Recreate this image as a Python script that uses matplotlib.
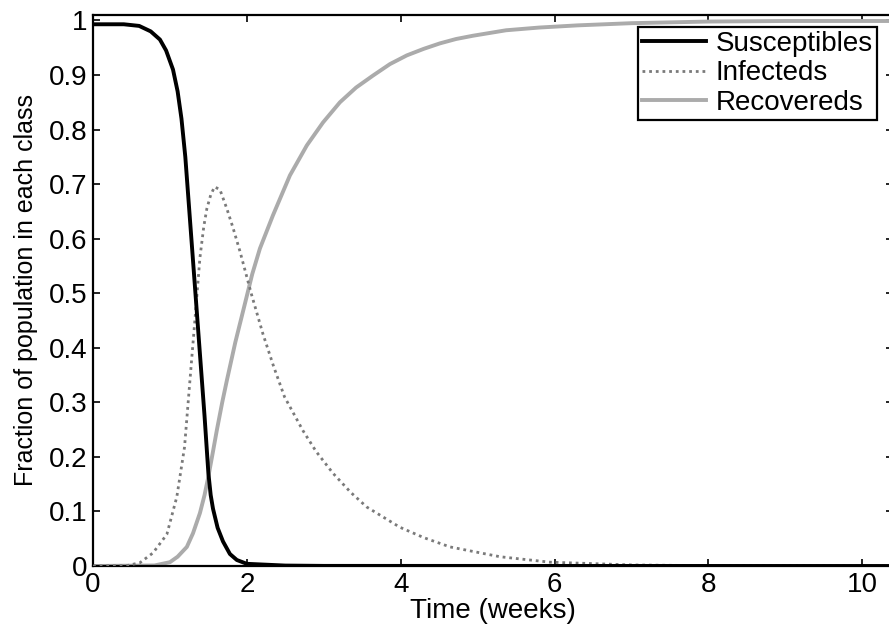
import matplotlib
matplotlib.use('Agg')
import matplotlib.pyplot as plt

plt.rcParams['font.family'] = ['Liberation Sans', 'DejaVu Sans']

# values
t_s = [0, 0.4, 0.6, 0.75, 0.87, 0.95, 1.04, 1.1, 1.15, 1.2, 1.25, 1.3, 1.35, 1.4,
       1.45, 1.5, 1.53, 1.56, 1.62, 1.69, 1.78, 1.87, 2.0, 2.5, 3.0, 10.5]
susceptibles = [0.993, 0.993, 0.99, 0.98, 0.965, 0.945, 0.91, 0.87, 0.82, 0.75, 0.655,
                0.56, 0.465, 0.37, 0.275, 0.17, 0.13, 0.105, 0.07, 0.045, 0.022,
                0.011, 0.004, 0.0008, 0.0002, 0.0]

t_i = [0, 0.45, 0.61, 0.78, 0.96, 1.09, 1.19, 1.26, 1.33, 1.39, 1.44, 1.48,
       1.53, 1.58, 1.65, 1.74, 1.82, 1.91, 2.06, 2.21, 2.35, 2.49, 2.73, 2.9, 3.12,
       3.35, 3.56, 3.99, 4.3, 4.64, 5.29, 5.94, 7.0, 8.0, 10.5]
infecteds = [0.0, 0.001, 0.006, 0.024, 0.058, 0.127, 0.218, 0.34, 0.46,
             0.565, 0.622, 0.655, 0.68, 0.695, 0.69, 0.655, 0.62, 0.577, 0.498, 0.425,
             0.365, 0.31, 0.248, 0.21, 0.17, 0.135, 0.108, 0.071, 0.052, 0.035, 0.017,
             0.007, 0.002, 0.0005, 0.0]

t_r = [0, 0.8, 1.0, 1.1, 1.22, 1.3, 1.39, 1.45, 1.5, 1.56, 1.61, 1.68, 1.74, 1.85,
       1.97, 2.07, 2.17, 2.34, 2.56, 2.78, 2.99, 3.21, 3.42, 3.64, 3.86, 4.08, 4.3,
       4.51, 4.72, 4.94, 5.37, 5.8, 6.3, 7.0, 8.0, 9.0, 10.5]
recovereds = [0.0, 0.001, 0.007, 0.017, 0.035, 0.06, 0.097, 0.13, 0.164, 0.21, 0.249,
              0.30, 0.34, 0.41, 0.478, 0.535, 0.582, 0.643, 0.716, 0.771, 0.813, 0.85,
              0.877, 0.899, 0.92, 0.936, 0.948, 0.958, 0.966, 0.972, 0.982, 0.987,
              0.991, 0.995, 0.998, 0.999, 0.999]

x_ticks = [0, 2, 4, 6, 8, 10]
y_ticks = [0, 0.1, 0.2, 0.3, 0.4, 0.5, 0.6, 0.7, 0.8, 0.9, 1]
y_labels = ['0', '0.1', '0.2', '0.3', '0.4', '0.5', '0.6', '0.7', '0.8', '0.9', '1']

fig = plt.figure(figsize=(8.89, 6.28), dpi=100)
# right edge of the axes sits just past the picture edge, as in the cropped original
ax = fig.add_axes([93 / 889, 62 / 628, 800 / 889, 551 / 628])

ax.plot(t_s, susceptibles, color='black', lw=2.8, label='Susceptibles', zorder=4)
ax.plot(t_i, infecteds, color='#7a7a7a', lw=2.0, linestyle=(0, (1, 1.4)),
        label='Infecteds', zorder=3)
ax.plot(t_r, recovereds, color='#ababab', lw=2.8, label='Recovereds', zorder=2)

ax.set_xlim(0, 10.4)
ax.set_ylim(0, 1.01)
ax.set_xticks(x_ticks)
ax.set_yticks(y_ticks)
ax.set_yticklabels(y_labels)
ax.tick_params(direction='in', length=5, width=1.2, top=True, right=True,
               labelsize=20, pad=4)
for sp in ax.spines.values():
    sp.set_linewidth(1.6)

ax.set_xlabel('Time (weeks)', fontsize=20, labelpad=0)
ax.set_ylabel('Fraction of population in each class', fontsize=18, labelpad=8)

leg = ax.legend(loc='upper right', bbox_to_anchor=(877 / 889, 1 - 27 / 628),
                bbox_transform=fig.transFigure, borderaxespad=0, fontsize=20,
                fancybox=False, framealpha=1, edgecolor='black',
                handlelength=2.3, handletextpad=0.35, labelspacing=0.12,
                borderpad=0.15)
leg.get_frame().set_linewidth(1.6)

fig.savefig('out.png', dpi=100)
